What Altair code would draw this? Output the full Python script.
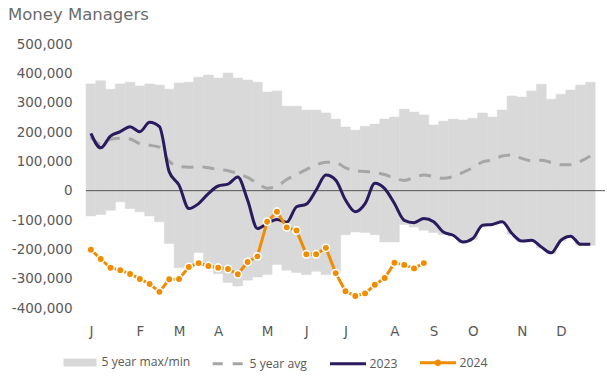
import altair as alt
import pandas as pd

# ---------------- data (thousands of contracts) ----------------
weeks = list(range(52))
max_5y = [364, 375, 346, 364, 370, 357, 364, 360, 346, 367, 370, 387, 394, 384, 401, 384, 377, 370,
          336, 340, 288, 288, 275, 275, 265, 244, 217, 206, 220, 227, 244, 251, 278, 268, 258, 224,
          237, 244, 241, 247, 265, 251, 275, 323, 319, 340, 363, 312, 329, 343, 360, 370]
min_5y = [-86, -81, -67, -38, -61, -72, -86, -106, -180, -263, -263, -211, -248, -283, -313, -325, -305, -294,
          -286, -252, -271, -279, -286, -275, -286, -275, -150, -141, -143, -150, -175, -175, -115, -124, -135, -143,
          -150, -155, -178, -166, -121, -118, -109, -149, -175, -172, -195, -215, -172, -158, -186, -186]
avg_5y = [183, 158, 175, 179, 176, 160, 155, 148, 100, 83, 80, 82, 78, 72, 68, 58, 45, 25, 8, 15,
          38, 55, 72, 88, 97, 96, 78, 68, 65, 62, 55, 42, 35, 45, 53, 48, 42, 48, 62, 78,
          98, 105, 118, 122, 110, 102, 104, 96, 88, 88, 100, 118]
y2023 = [195, 146, 186, 201, 218, 201, 233, 218, 64, 19, -61, -44, -10, 16, 22, 47, -32, -129, -112, -98,
         -108, -55, -46, 2, 53, 36, -32, -72, -44, 25, 7, -44, -101, -109, -95, -106, -141, -152, -175, -163,
         -118, -115, -106, -146, -172, -169, -192, -212, -169, -155, -183, -183]
y2024 = [-201, -233, -263, -271, -284, -301, -318, -345, -302, -301, -260, -247, -257, -263, -267, -285,
         -243, -224, -106, -72, -125, -136, -217, -217, -195, -281, -343, -359, -350, -321, -298, -246,
         -253, -265, -247]

month_weeks = [0, 5, 9, 13, 18, 22, 26, 31, 35, 39, 44, 48]
month_labels = ["J", "F", "M", "A", "M", "J", "J", "A", "S", "O", "N", "D"]
y_ticks = [-400000, -300000, -200000, -100000, 0, 100000, 200000, 300000, 400000, 500000]

series_names = ["5 year max/min", "5 year avg", "2023", "2024"]
series_colors = ["#d9d9d9", "#a6a6a6", "#2a1a5e", "#f08c00"]

K = 1000
df_range = pd.DataFrame({"week": weeks,
                         "lo": [v * K for v in min_5y],
                         "hi": [v * K for v in max_5y]})
df_lines = pd.DataFrame({"week": weeks,
                         "avg": [v * K for v in avg_5y],
                         "y2023": [v * K for v in y2023]})
df_2024 = pd.DataFrame({"week": weeks[:len(y2024)], "y2024": [v * K for v in y2024]})
df_zero = pd.DataFrame({"v": [0]})
df_legend = pd.DataFrame({"series": series_names})

GREY, AVG, NAVY, ORANGE = series_colors
TXT = "#595959"

# ---------------- scales / axes ----------------
xs = alt.Scale(domain=[-0.5, 52.5], nice=False, zero=False)
ys = alt.Scale(domain=[-400000, 500000], nice=False, zero=False)

month_arr = "[" + ",".join("'%s'" % m for m in month_labels) + "]"
week_arr = "[" + ",".join(str(w) for w in month_weeks) + "]"
x_axis = alt.Axis(values=month_weeks,
                  labelExpr=f"{month_arr}[indexof({week_arr}, datum.value)]",
                  title=None, grid=False, ticks=False, tickSize=0, domain=False,
                  labelPadding=16, labelFlush=False, labelFontSize=13.5,
                  labelColor=TXT, labelFont="DejaVu Sans")
y_axis = alt.Axis(values=y_ticks,
                  labelExpr="replace(format(datum.value, ','), '\u2212', '-')",
                  title=None, grid=False, ticks=False, tickSize=0, domain=False,
                  labelPadding=14, labelFontSize=13.5, labelColor=TXT,
                  labelFont="DejaVu Sans")

# ---------------- layers ----------------
bars = alt.Chart(df_range).transform_calculate(
    x0="datum.week - 0.5", x1="datum.week + 0.5"
).mark_rect(color=GREY, stroke=GREY, strokeWidth=0.5).encode(
    x=alt.X("x0:Q", scale=xs, axis=x_axis),
    x2="x1:Q",
    y=alt.Y("hi:Q", scale=ys, axis=y_axis),
    y2="lo:Q",
)

zero = alt.Chart(df_zero).mark_rule(color="#555555", strokeWidth=1).encode(
    y=alt.Y("v:Q", scale=ys, axis=y_axis)
)

avg_line = alt.Chart(df_lines).mark_line(
    color=AVG, strokeWidth=3, strokeDash=[12, 9], interpolate="monotone"
).encode(
    x=alt.X("week:Q", scale=xs, axis=x_axis),
    y=alt.Y("avg:Q", scale=ys, axis=y_axis),
)

line23 = alt.Chart(df_lines).mark_line(
    color=NAVY, strokeWidth=3, interpolate="monotone"
).encode(
    x=alt.X("week:Q", scale=xs, axis=x_axis),
    y=alt.Y("y2023:Q", scale=ys, axis=y_axis),
)

line24 = alt.Chart(df_2024).mark_line(color=ORANGE, strokeWidth=3).encode(
    x=alt.X("week:Q", scale=xs, axis=x_axis),
    y=alt.Y("y2024:Q", scale=ys, axis=y_axis),
)
pts24 = alt.Chart(df_2024).mark_point(
    filled=True, fill=ORANGE, stroke="white", strokeWidth=1.5, size=55, opacity=1
).encode(
    x=alt.X("week:Q", scale=xs, axis=x_axis),
    y=alt.Y("y2024:Q", scale=ys, axis=y_axis),
)

# ---------------- legend (scale-driven symbols, stroked custom paths) ----------------
shape_paths = [
    "M-0.92,-0.14H0.92M-0.92,0H0.92M-0.92,0.14H0.92",
    "M-0.85,0H0.85",
    "M-1,0H1",
    "M-1,0H1M-0.1,0A0.1,0.1 0 1,0 0.1,0A0.1,0.1 0 1,0 -0.1,0",
]
dash_patterns = [[1, 0], [10, 10], [1, 0], [1, 0]]

legend_def = alt.Legend(title=None, orient="none", legendX=-25.5, legendY=298.5,
                        direction="horizontal", columns=4, columnPadding=16,
                        labelOffset=2, labelFont="Open Sans", labelFontSize=12.2,
                        labelColor=TXT, symbolSize=1296, symbolStrokeWidth=3,
                        symbolOpacity=1, padding=0)

legend_layer = alt.Chart(df_legend).mark_point(filled=False, opacity=0, size=1).encode(
    color=alt.Color("series:N", scale=alt.Scale(domain=series_names, range=series_colors),
                    legend=legend_def),
    shape=alt.Shape("series:N", scale=alt.Scale(domain=series_names, range=shape_paths),
                    legend=legend_def),
    strokeDash=alt.StrokeDash("series:N",
                              scale=alt.Scale(domain=series_names, range=dash_patterns),
                              legend=legend_def),
)

chart = alt.layer(bars, zero, avg_line, line23, line24, pts24, legend_layer).properties(
    width=519,
    height=264,
    title=alt.TitleParams("Money Managers", anchor="start", frame="group", dx=-78, offset=14,
                          fontSize=16.5, font="DejaVu Sans", fontWeight="normal", color="#6b6b6b"),
    autosize=alt.AutoSizeParams(type="none"),
    padding={"left": 86, "top": 44, "right": 2, "bottom": 69},
).configure(background="white").configure_view(stroke=None, strokeWidth=0)

chart.save("out.html", embed_options={"renderer": "svg", "actions": False})
